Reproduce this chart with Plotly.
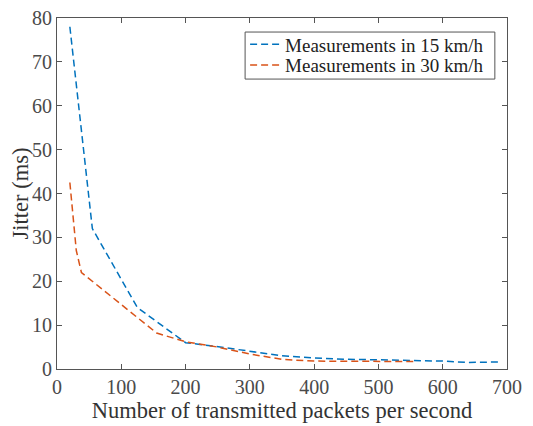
import plotly.graph_objects as go

x15 = [20, 55, 125, 200, 245, 300, 350, 400, 450, 500, 550, 600, 640, 690]
y15 = [78, 32, 14, 6, 5.2, 4.0, 3.0, 2.5, 2.2, 2.1, 2.0, 1.8, 1.5, 1.6]
x30 = [20, 30, 38, 155, 200, 250, 300, 350, 400, 450, 500, 555]
y30 = [42.5, 27, 22, 8.2, 6.2, 5.0, 3.4, 2.2, 1.8, 1.8, 1.7, 1.7]
names = ["Measurements in 15 km/h", "Measurements in 30 km/h"]
xticks = [0, 100, 200, 300, 400, 500, 600, 700]
yticks = [0, 10, 20, 30, 40, 50, 60, 70, 80]

font = "Liberation Serif"
dash = "7px,4px"
fig = go.Figure()
fig.add_trace(go.Scatter(x=x15, y=y15, mode="lines", name=names[0], legend="legend",
                         showlegend=True,
                         line=dict(color="#0072BD", width=1.5, dash=dash)))
fig.add_trace(go.Scatter(x=x30, y=y30, mode="lines", name=names[1], legend="legend2",
                         showlegend=True,
                         line=dict(color="#D95319", width=1.5, dash=dash)))

axis_common = dict(showline=True, linecolor="#555555", linewidth=1, mirror="allticks",
                   ticks="inside", ticklen=5, tickcolor="#555555", showgrid=False,
                   zeroline=False, automargin=False, ticklabeloverflow="allow",
                   tickfont=dict(family=font, size=20, color="#4a4a4a"))
fig.update_xaxes(range=[0, 700], tickvals=xticks,
                 title=dict(text="Number of transmitted packets per second",
                            font=dict(family=font, size=22.5, color="#333333"), standoff=4),
                 **axis_common)
fig.update_yaxes(range=[0, 80], tickvals=yticks,
                 title=dict(text="Jitter (ms)", font=dict(family=font, size=22.5, color="#333333"),
                            standoff=0),
                 **axis_common)

leg_common = dict(xanchor="left", yanchor="middle", borderwidth=0,
                  bgcolor="rgba(0,0,0,0)", itemwidth=30,
                  font=dict(family=font, size=19, color="#222222"))
# legend frame
fig.add_shape(type="rect", xref="paper", yref="paper", x0=0.418, x1=0.973,
              y0=0.826, y1=0.960, line=dict(color="#555555", width=1),
              fillcolor="white", layer="above")
# page body has an 8px default margin, so the figure is 8px smaller and offset
fig.update_layout(
    width=525, height=418, margin=dict(l=49, r=26, t=10, b=57),
    plot_bgcolor="white", paper_bgcolor="white", showlegend=True,
    legend=dict(x=0.418, y=0.925, **leg_common),
    legend2=dict(x=0.418, y=0.866, **leg_common),
)
fig.write_html("out.html")
